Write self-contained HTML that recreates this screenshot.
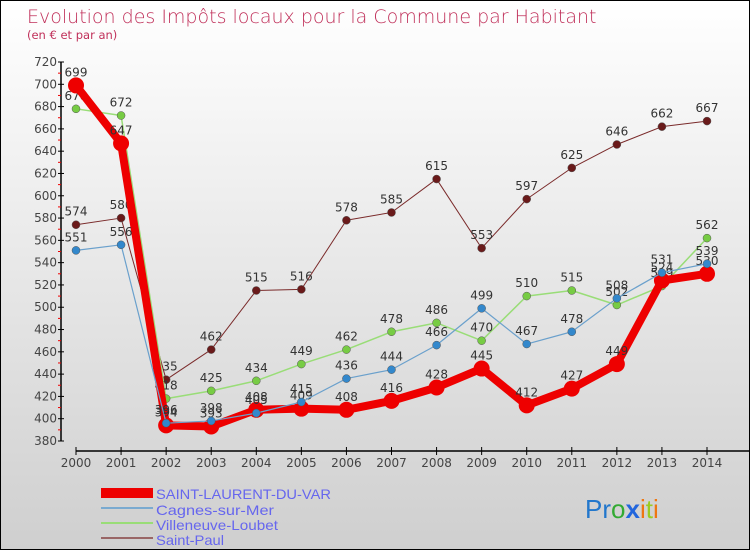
<!DOCTYPE html>
<html><head><meta charset="utf-8"><style>
body{margin:0}
#c{width:750px;height:550px;position:relative;box-sizing:border-box;border:1px solid #000;background:linear-gradient(#ffffff,#cfcfcf);font-family:"DejaVu Sans","Liberation Sans",sans-serif;overflow:hidden}
</style></head><body>
<div id="c">
<svg id="s" width="750" height="550" style="position:absolute;left:0;top:0">
<text x="26" y="22" font-size="19" fill="#c0305a" font-weight="200">Evolution des Impôts locaux pour la Commune par Habitant</text>
<text x="26" y="38" font-size="11.5" fill="#c0305a">(en € et par an)</text>
<g id="axes"></g><g id="series"></g>
<g font-size="14" fill="#6666ee" font-family="'Liberation Sans',sans-serif">
<rect x="100" y="487" width="52" height="10" fill="#ee0000"/>
<text x="155" y="498" textLength="175" lengthAdjust="spacingAndGlyphs">SAINT-LAURENT-DU-VAR</text>
<rect x="100" y="506" width="52" height="2" fill="#7aaad0"/>
<text x="155" y="514" textLength="118" lengthAdjust="spacingAndGlyphs">Cagnes-sur-Mer</text>
<rect x="100" y="521" width="52" height="2" fill="#99dd77"/>
<text x="155" y="529" textLength="122" lengthAdjust="spacingAndGlyphs">Villeneuve-Loubet</text>
<rect x="100" y="536" width="52" height="2" fill="#996666"/>
<text x="155" y="544" textLength="68" lengthAdjust="spacingAndGlyphs">Saint-Paul</text>
</g>
<text x="584" y="517" font-size="26" font-family="'Liberation Sans',sans-serif"><tspan fill="#2277cc">Pr</tspan><tspan fill="#33aa33">o</tspan><tspan fill="#2266dd" font-weight="bold">x</tspan><tspan fill="#ee7711">i</tspan><tspan fill="#99cc22">t</tspan><tspan fill="#ee7711">i</tspan></text>
</svg>
</div>
<script>
const years=[2000,2001,2002,2003,2004,2005,2006,2007,2008,2009,2010,2011,2012,2013,2014];
const slv=[699,647,394,393,408,409,408,416,428,445,412,427,449,524,530];
const cagnes=[551,556,396,398,405,415,436,444,466,499,467,478,508,531,539];
const villeneuve=[678,672,418,425,434,449,462,478,486,470,510,515,502,519,562];
const saintPaul=[574,580,435,462,515,516,578,585,615,553,597,625,646,662,667];
const yTicks=[380,400,420,440,460,480,500,520,540,560,580,600,620,640,660,680,700,720];
const NS="http://www.w3.org/2000/svg";
const xs=i=>75+i*(706-75)/14;
const ys=v=>440-(v-380)*(440-61)/340;
function mk(t,a,p){const e=document.createElementNS(NS,t);for(const k in a)e.setAttribute(k,a[k]);p.appendChild(e);return e;}
const ax=document.getElementById('axes');
const yl=mk('line',{x1:60,y1:61,x2:60,y2:440,stroke:'#000','stroke-width':1.5},ax);


yTicks.forEach((v,i)=>{
 mk('line',{x1:57,x2:63,y1:ys(v),y2:ys(v),stroke:'#000'},ax);
 if(i<yTicks.length-1)mk('line',{x1:57,x2:60,y1:ys(v+10),y2:ys(v+10),stroke:'#e00'},ax);
 const t=mk('text',{x:56,y:ys(v)+4,'text-anchor':'end','font-size':12,fill:'#444'},ax);
 t.textContent=v;
 
 
});
const xl=mk('line',{x1:75,y1:450,x2:750,y2:450,stroke:'#000','stroke-width':1.5},ax);


years.forEach((y,i)=>{
 mk('line',{x1:xs(i),x2:xs(i),y1:446,y2:454,stroke:'#000'},ax);
 const t=mk('text',{x:xs(i),y:466,'text-anchor':'middle','font-size':12,fill:'#444'},ax);
 t.textContent=y;
 
 
});
const sg=document.getElementById('series');
function draw(data,name,color,dot,w,r){
 const g=mk('g',{},sg);
 
 
 const l=mk('polyline',{points:data.map((v,i)=>xs(i)+','+ys(v)).join(' '),fill:'none',stroke:color,'stroke-width':w,'stroke-linejoin':'round'},g);
 
 
 data.forEach((v,i)=>{
  const c=mk('circle',{cx:xs(i),cy:ys(v),r:r,fill:dot,stroke:w>3?'none':'#555','stroke-width':0.5},g);
  
  
  const t=mk('text',{x:xs(i),y:ys(v)-9,'text-anchor':'middle','font-size':12,fill:'#333'},g);
  t.textContent=v;
  
  
 });
}
draw(saintPaul,'saint-paul','#7a2a2a','#6a1a1a',1,4);
draw(villeneuve,'villeneuve-loubet','#99dd77','#77cc44',1.5,4);
draw(cagnes,'cagnes-sur-mer','#6aa0cc','#3388cc',1.2,4);
draw(slv,'saint-laurent-du-var','#ee0000','#ee0000',8,8);
sg.appendChild(sg.children[2]);
</script>
</body></html>
